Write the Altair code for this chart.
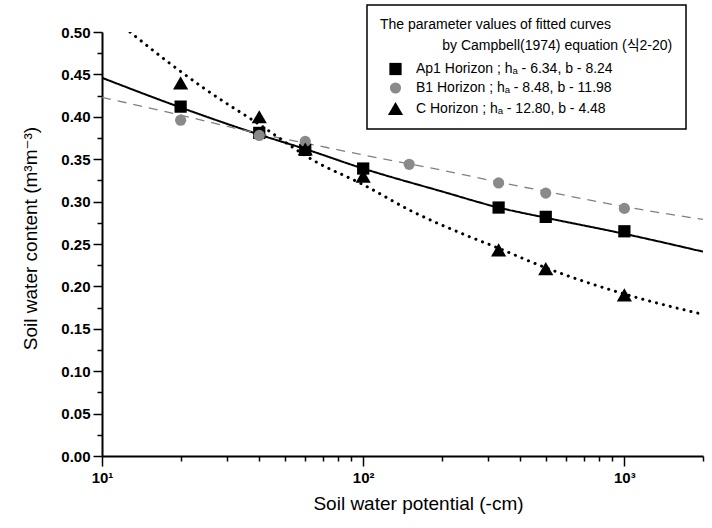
import altair as alt
import pandas as pd

# ---- data ----
labels = [
    "Ap1 Horizon ; h\u2090 - 6.34, b - 8.24",
    "B1 Horizon ; h\u2090 - 8.48, b - 11.98",
    "C Horizon ; h\u2090 - 12.80, b - 4.48",
]

ap1_pot = [20, 40, 60, 100, 330, 500, 1000]
ap1_theta = [0.412, 0.381, 0.361, 0.339, 0.293, 0.282, 0.265]
b1_pot = [20, 40, 60, 150, 330, 500, 1000]
b1_theta = [0.396, 0.378, 0.371, 0.344, 0.322, 0.310, 0.292]
c_pot = [20, 40, 60, 100, 330, 500, 1000]
c_theta = [0.440, 0.400, 0.362, 0.330, 0.243, 0.221, 0.190]

ap1_fit_x = [10, 20, 40, 60, 100, 200, 330, 500, 1000, 2000]
ap1_fit_y = [0.446, 0.411, 0.379, 0.362, 0.339, 0.312, 0.293, 0.281, 0.262, 0.241]
b1_fit_x = [10, 20, 40, 60, 100, 200, 330, 500, 1000, 2000]
b1_fit_y = [0.423, 0.402, 0.380, 0.369, 0.355, 0.337, 0.323, 0.312, 0.294, 0.279]
c_fit_x = [12.8, 18, 25, 40, 65, 100, 155, 240, 330, 500, 1000, 2000]
c_fit_y = [0.500, 0.464, 0.432, 0.391, 0.348, 0.320, 0.288, 0.262, 0.245, 0.222, 0.191, 0.167]

x_major = [10, 100, 1000]
x_minor = [20, 30, 40, 50, 60, 70, 80, 90, 200, 300, 400, 500, 600, 700, 800, 900, 2000]
y_major = [0.00, 0.05, 0.10, 0.15, 0.20, 0.25, 0.30, 0.35, 0.40, 0.45, 0.50]
y_minor = [0.025, 0.075, 0.125, 0.175, 0.225, 0.275, 0.325, 0.375, 0.425, 0.475]

# ---- tables ----
pts = pd.DataFrame(
    [{"series": labels[0], "pot": p, "theta": t} for p, t in zip(ap1_pot, ap1_theta)]
    + [{"series": labels[1], "pot": p, "theta": t} for p, t in zip(b1_pot, b1_theta)]
    + [{"series": labels[2], "pot": p, "theta": t} for p, t in zip(c_pot, c_theta)]
)
fits = [
    (pd.DataFrame({"pot": ap1_fit_x, "theta": ap1_fit_y}), "black", [1, 0], 2.0, "butt"),
    (pd.DataFrame({"pot": b1_fit_x, "theta": b1_fit_y}), "#808080", [9, 7], 1.3, "butt"),
    (pd.DataFrame({"pot": c_fit_x, "theta": c_fit_y}), "black", [0.1, 7], 3.0, "round"),
]

FONT = "Liberation Sans, Arial, DejaVu Sans, Noto Sans CJK KR, sans-serif"

xscale = alt.Scale(type="log", domain=[10, 2000], nice=False)
yscale = alt.Scale(domain=[0, 0.5], nice=False, zero=False)

x_label_expr = ("datum.value == 10 ? '10\u00b9' : datum.value == 100 ? '10\u00b2' : "
                "datum.value == 1000 ? '10\u00b3' : ''")
xaxis = alt.Axis(
    values=x_major + x_minor,
    labelExpr=x_label_expr,
    title="Soil water potential (-cm)",
    grid=False,
    tickSize={"condition": {"test": "indexof([10,100,1000], datum.value) >= 0", "value": 10}, "value": 5},
    labelOverlap=False,
    labelFlush=False,
    labelPadding=4,
    titleX=316,
    titleY=38,
    titleAnchor="start",
    titleAlign="center",
)
yaxis = alt.Axis(
    values=y_major + y_minor,
    labelExpr="round(datum.value*1000) % 50 == 0 ? format(datum.value, '.2f') : ''",
    title="Soil water content (m\u00b3m\u207b\u00b3)",
    grid=False,
    tickSize={"condition": {"test": "round(datum.value*1000) % 50 == 0", "value": 9}, "value": 5},
    labelOverlap=False,
    labelFlush=False,
    labelPadding=3,
    titleX=-72,
    titleY=206,
    titleBaseline="middle",
    titleAlign="center",
)

layers = []
for df, col, dash, w, cap in fits:
    layers.append(
        alt.Chart(df).mark_line(color=col, strokeDash=dash, strokeWidth=w, strokeCap=cap,
                                interpolate="monotone", clip=True)
        .encode(x=alt.X("pot:Q", scale=xscale, axis=xaxis),
                y=alt.Y("theta:Q", scale=yscale, axis=yaxis))
    )

legend = alt.Legend(
    title=["The parameter values of fitted curves",
           "\u200b" + "\u00a0" * 16 + "by Campbell(1974) equation (\uc2dd2-20)"],
    orient="none",
    legendX=265,
    legendY=-27,
    padding=13,
    symbolOffset=7,
    labelOffset=12,
    rowPadding=5,
    symbolSize=120,
    titlePadding=9,
)

points = alt.Chart(pts).mark_point(filled=True, opacity=1, clip=True).encode(
    x=alt.X("pot:Q", scale=xscale, axis=xaxis),
    y=alt.Y("theta:Q", scale=yscale, axis=yaxis),
    shape=alt.Shape("series:N", scale=alt.Scale(domain=labels, range=["square", "circle", "triangle-up"]),
                    legend=legend),
    color=alt.Color("series:N", scale=alt.Scale(domain=labels, range=["black", "#8a8a8a", "black"]),
                    legend=legend),
    size=alt.Size("series:N", scale=alt.Scale(type="ordinal", domain=labels, range=[150, 125, 230]),
                  legend=None),
)
layers.append(points)

chart = alt.layer(*layers).properties(
    width=601,
    height=424,
    autosize=alt.AutoSizeParams(type="none"),
    padding={"left": 102, "top": 32, "right": 9, "bottom": 72},
).configure_view(stroke=None).configure_axis(
    domainColor="black",
    domainWidth=2,
    tickColor="black",
    tickWidth=1.5,
    labelFont=FONT,
    labelFontSize=15,
    labelFontWeight="bold",
    labelColor="black",
    titleFont=FONT,
    titleFontSize=19,
    titleFontWeight="normal",
    titleColor="black",
).configure_legend(
    strokeColor="black",
    strokeWidth=1.5,
    fillColor="white",
    titleFont=FONT,
    titleFontSize=14,
    titleFontWeight="normal",
    titleColor="black",
    titleLineHeight=21,
    labelFont=FONT,
    labelFontSize=14,
    labelColor="black",
    titleLimit=400,
    labelLimit=400,
)

chart.save("out.html", embed_options={"renderer": "svg", "actions": False})
